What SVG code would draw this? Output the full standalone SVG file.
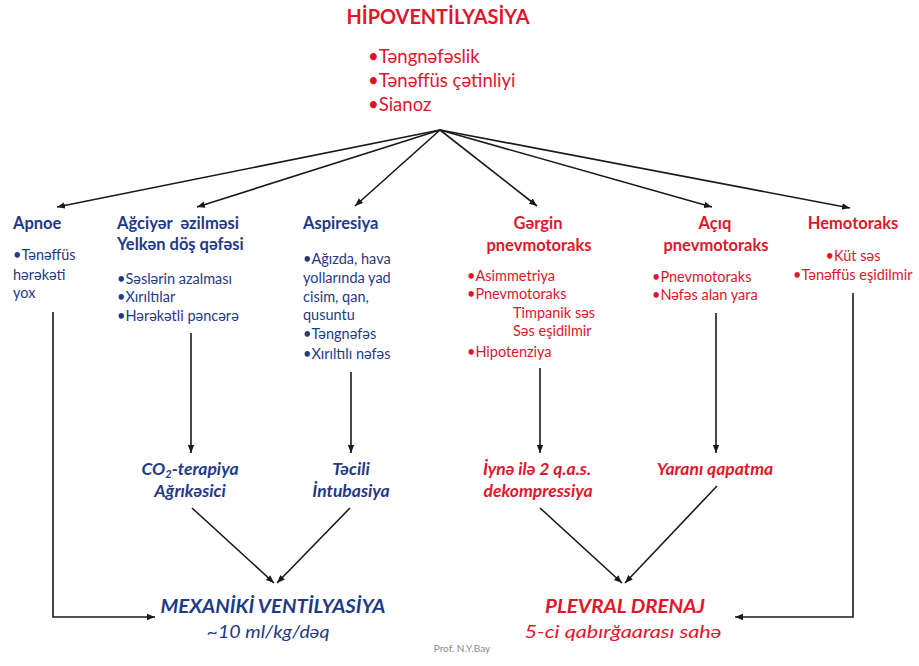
<svg xmlns="http://www.w3.org/2000/svg" width="919" height="666" viewBox="0 0 919 666">
<style>
text{font-family:Lato,"Liberation Sans",sans-serif;white-space:pre}
.r{fill:#e0162b}
.b{fill:#1f3a86}
.h{font-size:16.5px;font-weight:bold}
.s{font-size:14.5px}
.m{font-size:17.5px;font-weight:bold;font-style:italic}
.c{text-anchor:middle}
.ln{stroke:#1a1a1a;stroke-width:1.6;fill:none}
</style>
<defs>
<marker id="a" viewBox="0 0 10 10" refX="10" refY="5" markerWidth="8" markerHeight="8" markerUnits="userSpaceOnUse" orient="auto">
<path d="M0,1 L10,5 L0,9 z" fill="#1a1a1a"/>
</marker>
</defs>
<rect width="919" height="666" fill="#fff"/>

<g id="connectors">
<line class="ln" x1="440" y1="130" x2="57" y2="207" marker-end="url(#a)"/>
<line class="ln" x1="440" y1="130" x2="197" y2="207" marker-end="url(#a)"/>
<line class="ln" x1="440" y1="130" x2="355" y2="206" marker-end="url(#a)"/>
<line class="ln" x1="440" y1="130" x2="537" y2="206" marker-end="url(#a)"/>
<line class="ln" x1="440" y1="130" x2="712" y2="207" marker-end="url(#a)"/>
<line class="ln" x1="440" y1="130" x2="850" y2="208" marker-end="url(#a)"/>
<polyline class="ln" points="53,312 53,617 155,617" marker-end="url(#a)"/>
<line class="ln" x1="191" y1="333" x2="191" y2="453" marker-end="url(#a)"/>
<line class="ln" x1="351" y1="372" x2="351" y2="453" marker-end="url(#a)"/>
<line class="ln" x1="540" y1="368" x2="540" y2="453" marker-end="url(#a)"/>
<line class="ln" x1="716" y1="313" x2="716" y2="453" marker-end="url(#a)"/>
<polyline class="ln" points="853,293 853,617 735,617" marker-end="url(#a)"/>
<line class="ln" x1="192" y1="508" x2="274" y2="583" marker-end="url(#a)"/>
<line class="ln" x1="350" y1="508" x2="277" y2="583" marker-end="url(#a)"/>
<line class="ln" x1="540" y1="508" x2="622" y2="583" marker-end="url(#a)"/>
<line class="ln" x1="717" y1="486" x2="625" y2="583" marker-end="url(#a)"/>
</g>

<g id="hipoventilyasiya">
<text class="r c" x="438" y="24" font-size="20" font-weight="bold" textLength="183" lengthAdjust="spacingAndGlyphs">HİPOVENTİLYASİYA</text>
<text class="r" x="368" y="63" font-size="18.5">•Təngnəfəslik</text>
<text class="r" x="368" y="87" font-size="18.5">•Tənəffüs çətinliyi</text>
<text class="r" x="368" y="111" font-size="18.5">•Sianoz</text>
</g>

<g id="apnoe">
<text class="b h" x="13" y="229">Apnoe</text>
<text class="b s" x="13" y="260">•Tənəffüs</text>
<text class="b s" x="13" y="280">hərəkəti</text>
<text class="b s" x="13" y="298">yox</text>
</g>

<g id="agciyer">
<text class="b h" x="117" y="229">Ağciyər  əzilməsi</text>
<text class="b h" x="117" y="250">Yelkən döş qəfəsi</text>
<text class="b s" x="117" y="284">•Səslərin azalması</text>
<text class="b s" x="117" y="302">•Xırıltılar</text>
<text class="b s" x="117" y="321">•Hərəkətli pəncərə</text>
</g>

<g id="aspiresiya">
<text class="b h" x="303" y="229">Aspiresiya</text>
<text class="b s" x="303" y="264">•Ağızda, hava</text>
<text class="b s" x="303" y="283">yollarında yad</text>
<text class="b s" x="303" y="302">cisim, qan,</text>
<text class="b s" x="303" y="320">qusuntu</text>
<text class="b s" x="303" y="339">•Təngnəfəs</text>
<text class="b s" x="303" y="359">•Xırıltılı nəfəs</text>
</g>

<g id="gergin">
<text class="r h c" x="538" y="229">Gərgin</text>
<text class="r h c" x="539" y="251">pnevmotoraks</text>
<text class="r s" x="467" y="281">•Asimmetriya</text>
<text class="r s" x="467" y="299">•Pnevmotoraks</text>
<text class="r s" x="513" y="318">Timpanik səs</text>
<text class="r s" x="513" y="336">Səs eşidilmir</text>
<text class="r s" x="467" y="357">•Hipotenziya</text>
</g>

<g id="aciq">
<text class="r h c" x="715" y="229">Açıq</text>
<text class="r h c" x="716" y="251">pnevmotoraks</text>
<text class="r s" x="652" y="282">•Pnevmotoraks</text>
<text class="r s" x="652" y="300">•Nəfəs alan yara</text>
</g>

<g id="hemotoraks">
<text class="r h c" x="853" y="229">Hemotoraks</text>
<text class="r s c" x="853" y="261">•Küt səs</text>
<text class="r s" x="793" y="280">•Tənəffüs eşidilmir</text>
</g>

<g id="co2">
<text class="b m c" x="190" y="475">CO<tspan font-size="11" dy="3">2</tspan><tspan dy="-3">-terapiya</tspan></text>
<text class="b m c" x="190" y="497">Ağrıkəsici</text>
</g>

<g id="intubasiya">
<text class="b m c" x="351" y="475">Təcili</text>
<text class="b m c" x="351" y="497">İntubasiya</text>
</g>

<g id="dekompressiya">
<text class="r m c" x="537" y="475">İynə ilə 2 q.a.s.</text>
<text class="r m c" x="538" y="497">dekompressiya</text>
</g>

<g id="yara">
<text class="r m c" x="715" y="475">Yaranı qapatma</text>
</g>

<g id="mexaniki">
<text class="b c" x="273" y="613" font-size="19" font-weight="bold" font-style="italic" textLength="225" lengthAdjust="spacingAndGlyphs">MEXANİKİ VENTİLYASİYA</text>
<text class="b c" x="268" y="638" font-size="17" font-style="italic" textLength="123" lengthAdjust="spacingAndGlyphs">~10 ml/kg/dəq</text>
</g>

<g id="plevral">
<text class="r c" x="625" y="613" font-size="19" font-weight="bold" font-style="italic" textLength="160" lengthAdjust="spacingAndGlyphs">PLEVRAL DRENAJ</text>
<text class="r c" x="623" y="638" font-size="17" font-style="italic" textLength="197" lengthAdjust="spacingAndGlyphs">5-ci qabırğaarası sahə</text>
</g>

<text x="462" y="652" font-size="10" fill="#8a8a8a" text-anchor="middle">Prof. N.Y.Bay</text>
</svg>
